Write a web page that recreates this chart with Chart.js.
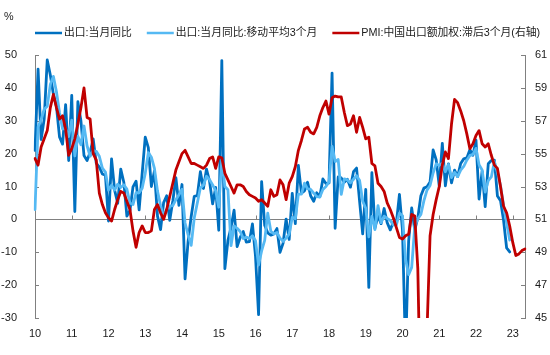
<!DOCTYPE html>
<html><head><meta charset="utf-8">
<script src="https://cdn.jsdelivr.net/npm/chart.js@4.4.1/dist/chart.umd.min.js"></script>
<style>html,body{margin:0;padding:0;background:#fff;}#wrap{width:550px;height:355px;}</style>
</head><body><div id="wrap"><canvas id="c" width="550" height="355"></canvas></div>
<script>
// ---- data ----
const yearLabels = ['10','11','12','13','14','15','16','17','18','19','20','21','22','23'];
const seriesNames = ['出口:当月同比', '出口:当月同比:移动平均3个月', 'PMI:中国出口额加权:滞后3个月(右轴)'];
// monthly export YoY (%), Jan 2010 .. Dec 2022
const exportYoY = [
 21.0, 45.7, 24.3, 30.5, 48.5, 43.9, 38.1, 34.4, 25.1, 22.9, 34.9, 17.9,
 37.7, 2.4, 35.8, 29.9, 19.4, 17.9, 20.4, 24.5, 17.1, 15.9, 13.8, 13.4,
 -0.5, 18.4, 8.9, 4.9, 15.3, 11.3, 1.0, 2.7, 9.9, 11.6, 2.9, 14.1,
 25.0, 21.8, 10.0, 14.7, 1.0, -3.1, 5.1, 7.2, -0.3, 5.6, 12.7, 4.3,
 10.6, -18.1, -6.6, 0.9, 7.0, 7.2, 14.5, 9.4, 15.3, 11.6, 4.7, 9.7,
 -3.3, 48.3, -15.0, -6.4, -2.5, 2.8, -8.3, -5.5, -3.7, -6.9, -6.8, -1.4,
 -11.2, -29.0, 11.5, -1.8, -4.1, -4.8, -4.4, -2.8, -10.0, -7.3, 0.1, -6.1,
 7.9, -1.3, 16.4, 8.0, 8.7, 11.3, 7.2, 5.5, 8.1, 6.9, 12.3, 10.9,
 11.1, 44.5, -2.7, 12.9, 12.6, 11.3, 12.2, 9.8, 14.5, 15.6, 5.4, -4.4,
 9.1, -20.7, 14.2, -2.7, 1.1, -1.3, 3.3, -1.0, -3.2, -0.9, -1.1, 7.6,
 -3.3, -40.6, -6.6, 3.5, -3.3, 0.5, 7.2, 9.5, 9.9, 11.4, 21.1, 18.1,
 10.1, 23.1, 10.2, 16.9, 11.1, 15.0, 13.0, 17.0, 18.4, 18.7, 21.2, 19.5,
 24.1, 6.2, 14.7, 3.9, 16.9, 17.9, 18.0, 7.1, 5.7, -0.3, -8.7, -9.9
];
// 3-month moving average (%), Jan 2010 .. Dec 2022
const exportMA3 = [
 3.0, 28.1, 30.3, 33.5, 34.4, 41.0, 43.5, 38.8, 32.5, 27.5, 27.6, 25.2,
 30.2, 19.3, 25.3, 22.7, 28.4, 22.4, 19.2, 20.9, 20.7, 19.2, 15.6, 14.4,
 8.9, 10.4, 8.9, 10.7, 9.7, 10.5, 9.2, 5.0, 4.5, 8.1, 8.1, 9.5,
 14.0, 20.3, 18.9, 15.5, 8.6, 4.2, 1.0, 3.1, 4.0, 4.2, 6.0, 7.5,
 9.2, -1.1, -4.7, -7.9, 0.4, 5.0, 9.6, 10.4, 13.1, 12.1, 10.5, 8.7,
 3.7, 18.2, 10.0, 9.0, -8.0, -2.0, -2.7, -3.7, -5.8, -5.4, -5.8, -5.0,
 -6.5, -13.9, -9.6, -6.4, 1.9, -3.6, -4.4, -4.0, -5.7, -6.7, -5.7, -4.4,
 0.6, 0.2, 7.7, 7.7, 11.0, 9.3, 9.1, 8.0, 6.9, 6.8, 9.1, 10.0,
 11.4, 22.2, 17.6, 18.2, 7.6, 12.3, 12.0, 11.1, 12.2, 13.3, 11.8, 5.5,
 3.4, -5.3, 0.9, -3.1, 4.2, -1.0, 1.0, 0.3, -0.3, -1.7, -1.7, 1.9,
 1.1, -12.1, -16.8, -14.6, -2.1, 0.2, 1.5, 5.7, 8.9, 10.3, 14.1, 16.9,
 16.4, 17.1, 14.5, 16.7, 12.7, 14.3, 13.0, 15.0, 16.1, 18.0, 19.4, 19.8,
 21.6, 16.6, 15.0, 8.3, 11.8, 12.9, 17.6, 14.3, 10.3, 4.2, -1.1, -6.3
];
// export-weighted PMI lagged 3 months (right axis), Jan 2010 .. May 2023
const pmiLag3 = [
 54.7, 54.3, 55.4, 55.9, 56.4, 57.8, 58.6, 57.8, 57.1, 57.3, 56.5, 54.9,
 55.3, 55.9, 56.8, 57.8, 59.0, 57.2, 57.1, 55.0, 54.6, 52.6, 51.9, 51.4,
 51.1, 50.9, 51.6, 52.2, 52.7, 52.6, 52.1, 51.6, 50.3, 49.3, 50.2, 50.6,
 50.2, 50.2, 50.3, 51.6, 51.9, 51.4, 51.0, 51.6, 52.4, 53.2, 54.0, 54.5,
 55.0, 55.2, 54.8, 54.4, 54.4, 54.3, 54.2, 54.1, 54.3, 54.7, 54.8, 54.1,
 54.8, 54.75, 53.8, 53.4, 53.0, 52.6, 53.1, 53.1, 53.0, 52.7, 52.5, 52.4,
 52.3, 52.1, 52.2, 52.0, 51.8, 52.8, 52.4, 52.5, 53.4, 53.1, 52.2, 53.2,
 53.6, 54.2, 55.2, 55.8, 56.5, 56.6, 56.3, 56.2, 56.6, 57.3, 57.8, 58.2,
 57.4, 58.4, 58.5, 58.45, 58.45, 57.5, 56.7, 56.8, 57.3, 56.3, 57.2, 56.6,
 55.9, 56.0, 54.4, 54.25, 53.2, 53.0, 52.7, 52.0, 51.6, 51.1, 50.5, 49.9,
 49.8, 50.0, 50.1, 51.3, 51.2, 48.0, 38.5, 40.5, 44.2, 50.0, 51.3, 52.2,
 53.0, 54.3, 55.1, 54.7, 56.8, 58.3, 58.1, 57.6, 57.0, 56.2, 55.3, 55.6,
 56.1, 56.4, 55.6, 55.4, 55.6, 54.9, 54.3, 54.1, 53.0, 51.8, 51.4, 50.6,
 49.6, 48.8, 48.9, 49.1, 49.2
];

// month categories Jan 2010 .. May 2023
const months = [];
for (let y = 2010; y <= 2023; y++) {
  for (let m = 1; m <= 12; m++) {
    if (y === 2023 && m > 5) break;
    months.push(y + '-' + String(m).padStart(2, '0'));
  }
}

const colors = ['#0070C0', '#55B9F3', '#C00000'];
const AXIS = '#808080';
const TXT = '#1a1a1a';
const FONT = '"Liberation Sans", Arial, "Noto Sans CJK SC", sans-serif';

const decor = {
  id: 'decor',
  beforeDatasetsDraw(chart) {
    const ctx = chart.ctx;
    const yl = chart.scales.y, yr = chart.scales.y2, x = chart.scales.x;
    ctx.save();
    ctx.strokeStyle = AXIS; ctx.lineWidth = 1;
    ctx.beginPath();
    yl.ticks.forEach(t => { const p = Math.round(yl.getPixelForValue(t.value)) + 0.5; ctx.moveTo(yl.right, p); ctx.lineTo(yl.right + 4, p); });
    yr.ticks.forEach(t => { const p = Math.round(yr.getPixelForValue(t.value)) + 0.5; ctx.moveTo(yr.left, p); ctx.lineTo(yr.left - 4, p); });
    const y0 = Math.round(yl.getPixelForValue(0)) + 0.5;
    months.forEach((mm, i) => {
      if (mm.endsWith('-01')) { const px = Math.round(x.getPixelForValue(i)) + 0.5; ctx.moveTo(px, y0); ctx.lineTo(px, y0 - 4); }
    });
    ctx.stroke();
    ctx.restore();
  },
  afterDraw(chart) {
    const ctx = chart.ctx;
    ctx.save();
    ctx.font = '10.8px ' + FONT;
    ctx.fillStyle = TXT;
    ctx.textBaseline = 'middle';
    ctx.textAlign = 'left';
    ctx.fillText('%', 4, 17.5);
    let cx = 35;
    const ly = 33;
    seriesNames.forEach((name, i) => {
      ctx.strokeStyle = colors[i];
      ctx.lineWidth = 2.5;
      ctx.beginPath(); ctx.moveTo(cx, ly); ctx.lineTo(cx + 27, ly); ctx.stroke();
      ctx.fillStyle = TXT;
      ctx.fillText(name, cx + 29, ly);
      cx += 29 + ctx.measureText(name).width + 15;
    });
    ctx.restore();
  }
};

new Chart(document.getElementById('c'), {
  type: 'line',
  data: {
    labels: months,
    datasets: [
      { label: seriesNames[0], data: exportYoY, yAxisID: 'y', borderColor: colors[0], borderWidth: 2.8, order: 3 },
      { label: seriesNames[1], data: exportMA3, yAxisID: 'y', borderColor: colors[1], borderWidth: 2.8, order: 2 },
      { label: seriesNames[2], data: pmiLag3, yAxisID: 'y2', borderColor: colors[2], borderWidth: 2.8, order: 1 }
    ]
  },
  options: {
    responsive: false,
    animation: false,
    devicePixelRatio: 1,
    layout: { padding: { top: 55, left: 0, right: 0, bottom: 0 } },
    elements: { point: { radius: 0 }, line: { tension: 0, borderJoinStyle: 'round', borderCapStyle: 'round' } },
    plugins: { legend: { display: false }, tooltip: { enabled: false } },
    scales: {
      x: {
        type: 'category',
        offset: false,
        grid: { display: false, drawTicks: false },
        border: { display: false },
        afterFit: s => { s.height = 37; },
        ticks: {
          autoSkip: false, maxRotation: 0, minRotation: 0, padding: 9,
          color: TXT, font: { family: FONT, size: 11 },
          callback: (v, i) => months[i].endsWith('-01') ? yearLabels[parseInt(months[i].slice(0, 4)) - 2010] : null
        }
      },
      y: {
        position: 'left', min: -30, max: 50,
        afterFit: s => { s.width = 35; },
        ticks: { stepSize: 10, padding: 18, color: TXT, font: { family: FONT, size: 11 } },
        grid: { drawTicks: false, color: c => (c.tick && c.tick.value === 0) ? AXIS : 'rgba(0,0,0,0)', lineWidth: 1 },
        border: { display: true, color: AXIS, width: 1 }
      },
      y2: {
        position: 'right', min: 45, max: 61,
        afterFit: s => { s.width = 25; },
        ticks: { stepSize: 2, padding: 10, color: TXT, font: { family: FONT, size: 11 } },
        grid: { display: false, drawTicks: false },
        border: { display: true, color: AXIS, width: 1 }
      }
    }
  },
  plugins: [decor]
});
</script>
</body></html>
